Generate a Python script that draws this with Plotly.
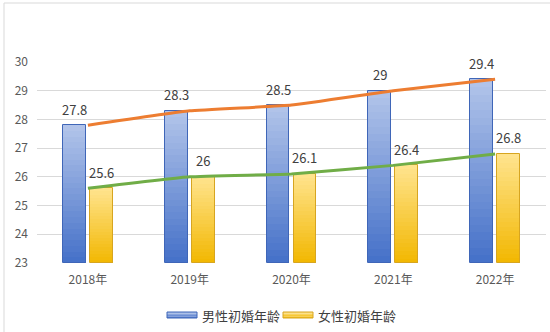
import plotly.graph_objects as go

years = ["2018年", "2019年", "2020年", "2021年", "2022年"]
male = [27.8, 28.3, 28.5, 29.0, 29.4]
female = [25.6, 26.0, 26.1, 26.4, 26.8]
male_label = "男性初婚年龄"
female_label = "女性初婚年龄"
y_min, y_max = 23, 30

FONT = "Noto Sans CJK SC, Open Sans, sans-serif"

# plot area in pixels (used to place the legend / frame in paper coords)
L, R, T, B = 37, 546, 62, 263
def px_x(p):
    return (p - L) / (R - L)
def px_y(p):
    return (B - p) / (B - T)

def hex2rgb(h):
    h = h.lstrip("#")
    return tuple(int(h[i:i + 2], 16) for i in (0, 2, 4))

def mix(c1, c2, t):
    a, b = hex2rgb(c1), hex2rgb(c2)
    return "rgb(%d,%d,%d)" % tuple(round(a[i] + (b[i] - a[i]) * t) for i in range(3))

series = [
    dict(name=male_label, vals=male, top="#b3c5ea", bot="#4470c8", edge="#3f66b8", off=-0.245,
         leg_x=167),
    dict(name=female_label, vals=female, top="#ffe48f", bot="#f2b700", edge="#d7a520", off=0.02,
         leg_x=283),
]
W = 0.225
N = 24

fig = go.Figure()
for s in series:
    for k in range(N):
        f = 1 - k / N
        tmid = 1 - (k + 0.5) / N  # 1 = top, 0 = bottom
        col = mix(s["bot"], s["top"], tmid)
        fig.add_trace(go.Bar(
            x=years, y=[(v - y_min) * f for v in s["vals"]], base=y_min,
            width=W, offset=s["off"], marker=dict(color=col, line=dict(width=0)),
            name=s["name"], showlegend=False, hoverinfo="skip"))
    fig.add_trace(go.Bar(
        x=years, y=[v - y_min for v in s["vals"]], base=y_min,
        width=W, offset=s["off"],
        marker=dict(color="rgba(0,0,0,0)", line=dict(width=1, color=s["edge"])),
        showlegend=False, hoverinfo="skip"))

fig.add_trace(go.Scatter(x=years, y=male, mode="lines",
                         line=dict(color="#ed7d31", width=3, shape="spline", smoothing=0.3),
                         showlegend=False, hoverinfo="skip"))
fig.add_trace(go.Scatter(x=years, y=female, mode="lines",
                         line=dict(color="#70ad47", width=3, shape="spline", smoothing=0.3),
                         showlegend=False, hoverinfo="skip"))

for s in series:
    for i, v in enumerate(s["vals"]):
        fig.add_annotation(x=i + s["off"] + W / 2, y=v, xref="x", yref="y",
                           text="%g" % v, showarrow=False, yanchor="middle", yshift=16,
                           font=dict(family=FONT, size=13, color="#404040"))

# legend (wide Excel-style swatches)
for s in series:
    x0 = s["leg_x"]
    stripes = 4
    for j in range(stripes):
        y0p = 312 + j * 6 / stripes
        y1p = 312 + (j + 1) * 6 / stripes
        fig.add_shape(type="rect", xref="paper", yref="paper",
                      x0=px_x(x0), x1=px_x(x0 + 30), y0=px_y(y1p), y1=px_y(y0p),
                      line=dict(width=0), fillcolor=mix(s["bot"], s["top"], 1 - (j + 0.5) / stripes))
    fig.add_shape(type="rect", xref="paper", yref="paper",
                  x0=px_x(x0), x1=px_x(x0 + 30), y0=px_y(318), y1=px_y(312),
                  line=dict(width=1, color=s["edge"]), fillcolor="rgba(0,0,0,0)")
    fig.add_annotation(xref="paper", yref="paper", x=px_x(x0 + 33), y=px_y(315),
                       xanchor="left", yanchor="middle", text=s["name"], showarrow=False,
                       font=dict(family=FONT, size=13, color="#404040"))

fig.add_shape(type="rect", xref="paper", yref="paper",
              x0=px_x(4), x1=px_x(600), y0=px_y(400), y1=px_y(3),
              line=dict(color="#d9d9d9", width=1), fillcolor="rgba(0,0,0,0)", layer="below")

fig.update_layout(
    width=550, height=332,
    margin=dict(l=L, r=550 - R, t=T, b=332 - B),
    paper_bgcolor="white", plot_bgcolor="white",
    barmode="overlay", bargap=0,
    font=dict(family=FONT, size=12, color="#595959"),
    showlegend=False,
    xaxis=dict(type="category", showgrid=False, showline=False, ticks="",
               tickfont=dict(family=FONT, size=12, color="#595959"), range=[-0.5, 4.5],
               ticklabelstandoff=8),
    yaxis=dict(range=[y_min, y_max], dtick=1, showgrid=True, gridcolor="#d9d9d9",
               gridwidth=1, zeroline=False, showline=False, ticks="",
               tickfont=dict(family=FONT, size=12, color="#595959"),
               ticklabelstandoff=8),
)

fig.write_html("out.html")
